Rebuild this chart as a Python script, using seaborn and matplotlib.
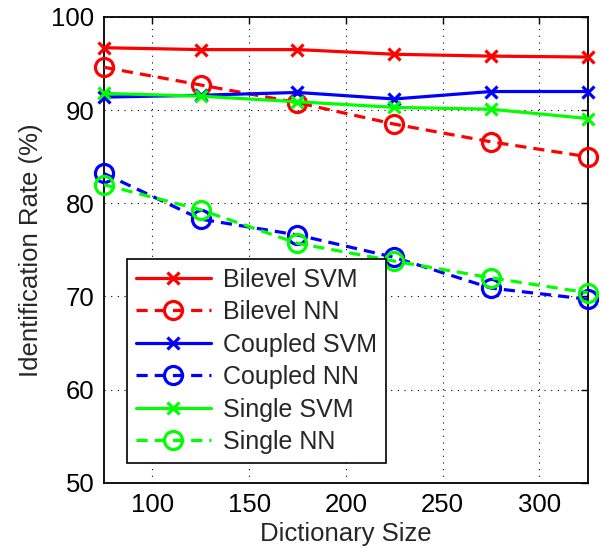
import pandas as pd
import numpy as np
import matplotlib.pyplot as plt
import seaborn as sns

sns.set_theme(style="white")
plt.rcParams['font.family'] = ['Liberation Sans', 'DejaVu Sans']

dict_size = [75, 125, 175, 225, 275, 325]

bilevel_svm = [96.7, 96.5, 96.5, 96.0, 95.8, 95.7]
bilevel_nn = [94.6, 92.7, 90.8, 88.5, 86.6, 85.0]
coupled_svm = [91.4, 91.6, 91.9, 91.2, 92.0, 92.0]
coupled_nn = [83.2, 78.3, 76.6, 74.2, 70.9, 69.7]
single_svm = [91.8, 91.5, 90.9, 90.3, 90.1, 89.1]
single_nn = [82.0, 79.3, 75.7, 73.8, 72.0, 70.4]

series = [
    ('Bilevel SVM', bilevel_svm, 'red', 'x', '-'),
    ('Bilevel NN', bilevel_nn, 'red', 'o', '--'),
    ('Coupled SVM', coupled_svm, 'blue', 'x', '-'),
    ('Coupled NN', coupled_nn, 'blue', 'o', '--'),
    ('Single SVM', single_svm, '#00ff00', 'x', '-'),
    ('Single NN', single_nn, '#00ff00', 'o', '--'),
]

fig = plt.figure(figsize=(6.01, 5.48), dpi=100)
ax = fig.add_axes([0.173, 0.119, 0.805, 0.850])

for name, vals, color, marker, ls in series:
    df = pd.DataFrame({'size': dict_size, 'rate': vals})
    sns.lineplot(data=df, x='size', y='rate', ax=ax, color=color,
                 marker=marker, label=name, linewidth=2.3,
                 markersize=13 if marker == 'o' else 9,
                 markeredgewidth=2.3,
                 markerfacecolor='none' if marker == 'o' else color,
                 markeredgecolor=color, clip_on=False, zorder=3)
    if ls == '--':
        ax.lines[-1].set_dashes((3.5, 2.2))

ax.set_xlim(75, 325)
ax.set_ylim(50, 100)
ax.set_xticks([100, 150, 200, 250, 300])
ax.set_yticks([50, 60, 70, 80, 90, 100])
ax.grid(True, color='black', linestyle=(0, (1, 5)), linewidth=0.8)
for s in ax.spines.values():
    s.set_visible(True)
    s.set_color('black')
    s.set_linewidth(1.3)
ax.tick_params(direction='in', length=5, width=1, top=True, right=True,
               labelsize=18.5, colors='black', pad=7)
ax.set_xlabel('Dictionary Size', fontsize=18.5, labelpad=4)
ax.set_ylabel('Identification Rate (%)', fontsize=18.5, labelpad=6)

leg = ax.legend(loc='lower left', bbox_to_anchor=(0.022, 0.016), fontsize=18,
                handlelength=3.0, labelspacing=0.34, borderpad=0.35,
                handletextpad=0.5, fancybox=False, framealpha=1,
                edgecolor='black')
leg.get_frame().set_linewidth(1.2)
leg.set_zorder(5)

fig.savefig('out.png', dpi=100)
